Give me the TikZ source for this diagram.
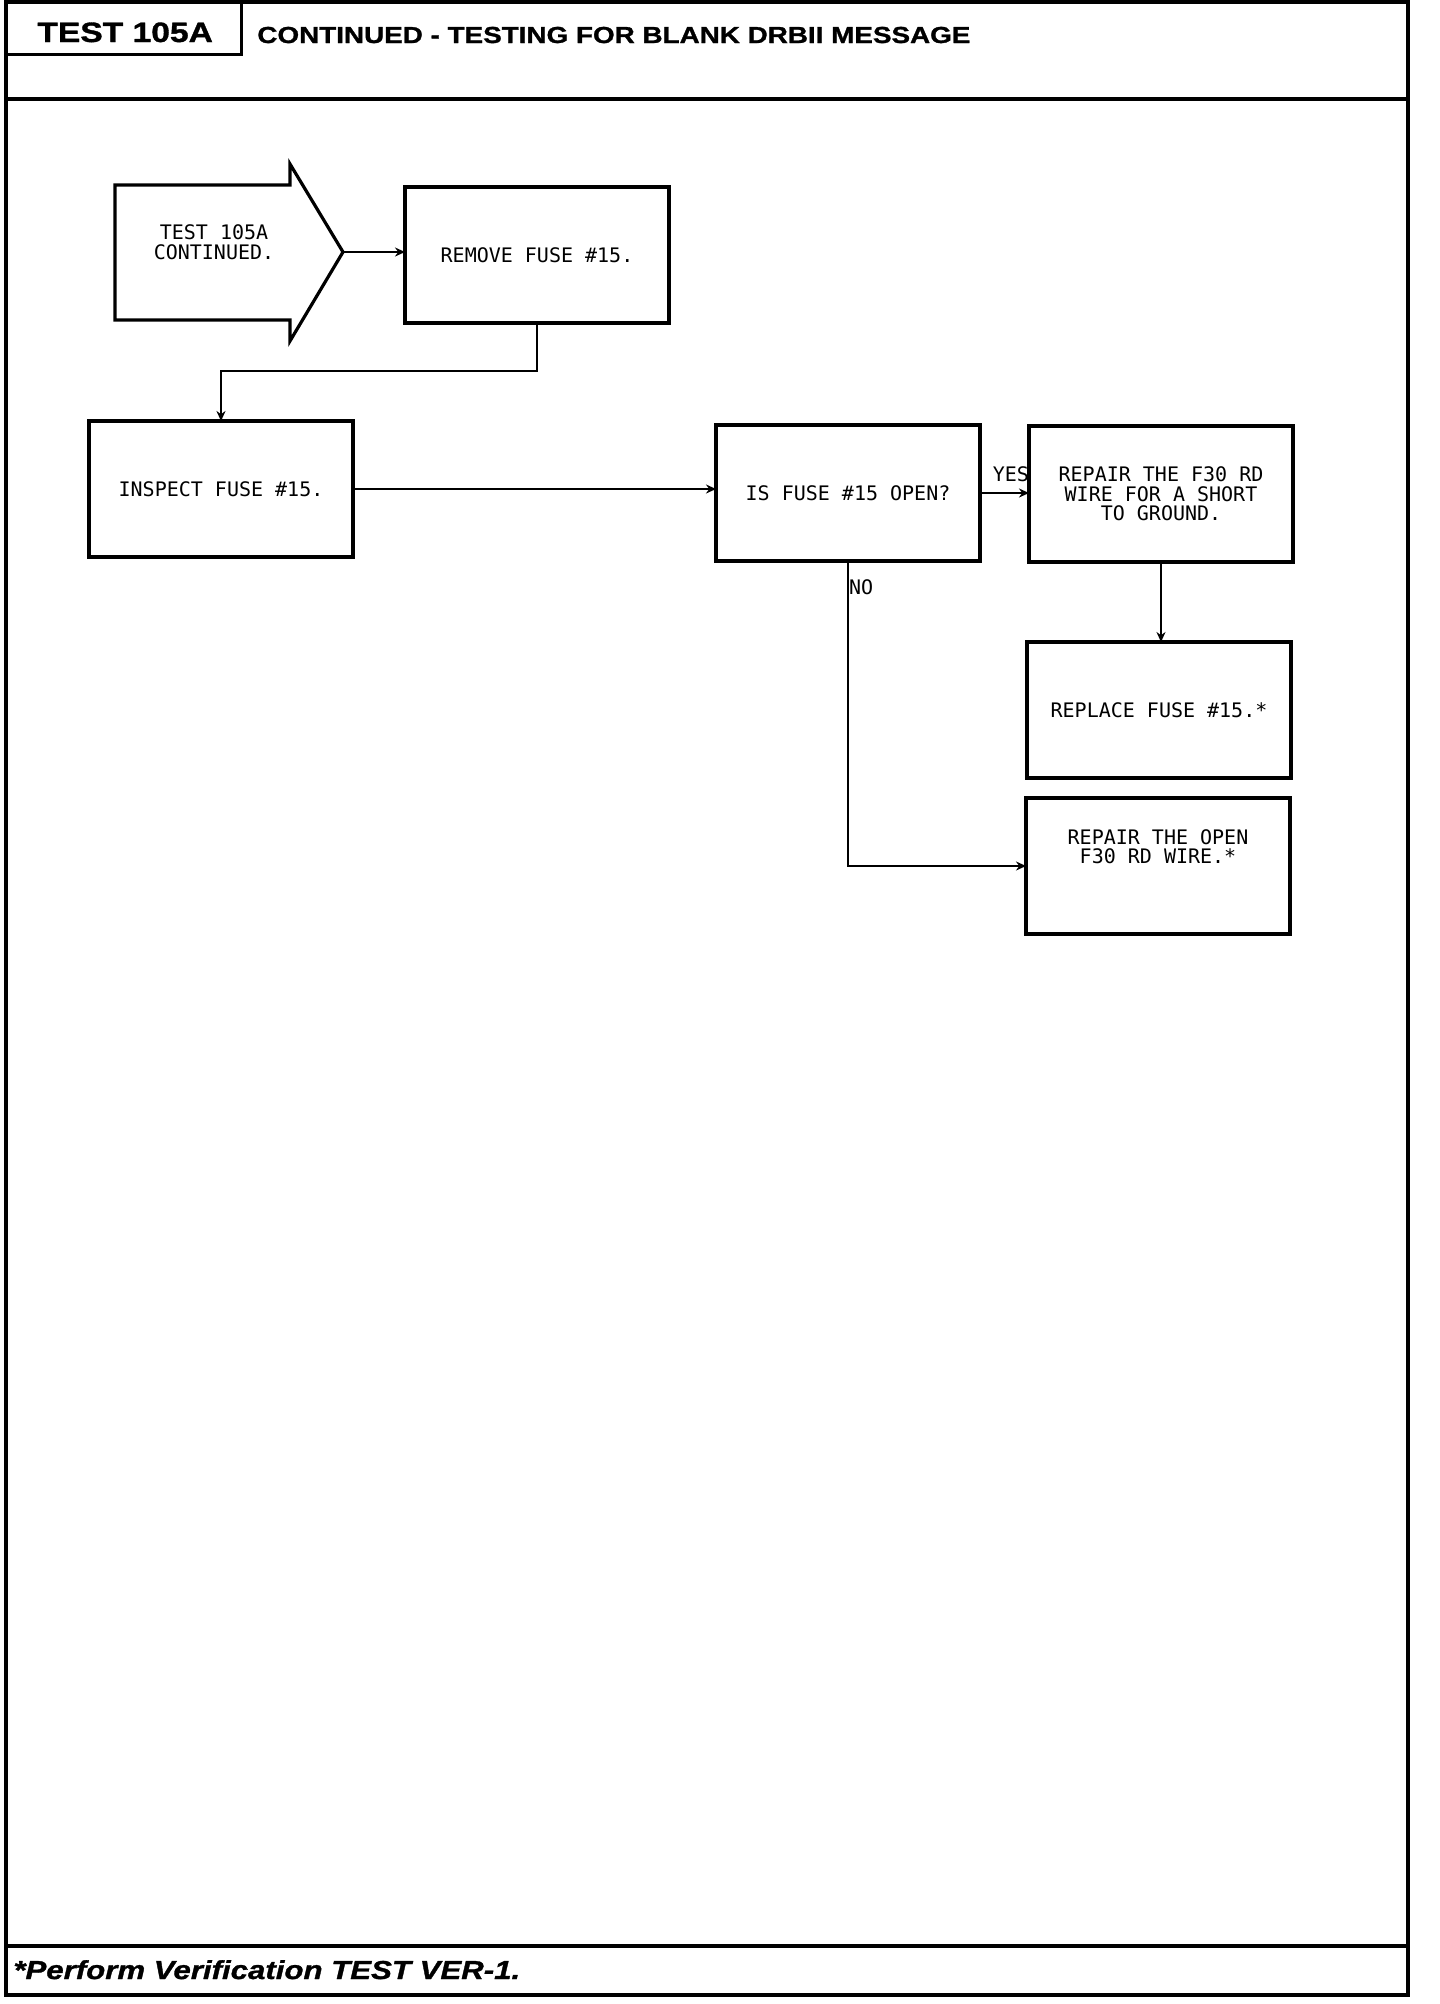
\documentclass[tikz,border=0pt]{standalone}
\usepackage{fontspec}
\setmonofont{DejaVu Sans Mono}
\newfontfamily\headfont[FakeStretch=1.2, BoldFeatures={FakeBold=1.2}, BoldItalicFeatures={FakeBold=1.2}]{Liberation Sans}
\usetikzlibrary{arrows.meta}
\begin{document}
\begin{tikzpicture}[x=0.5pt,y=-0.5pt,
  box/.style={draw, line width=1.6pt, minimum width=132pt, minimum height=68pt,
    inner sep=0pt, outer sep=0pt, align=center,
    font={\ttfamily\fontsize{10pt}{9.75pt}\selectfont}},
  plain/.style={inner sep=0pt, outer sep=0pt, align=center,
    font={\ttfamily\fontsize{10pt}{9.75pt}\selectfont}},
  conn/.style={line width=1.4pt, -{Stealth[length=5pt,width=4.5pt]}},
  frame/.style={line width=2pt},
  head/.style={inner sep=0pt, anchor=base west}]
\useasboundingbox (0,0) rectangle (1440,2004);
% outer frame and separators
\draw[frame] (6,2) rectangle (1408,1995);
\draw[frame] (6,99) -- (1408,99);
\draw[frame] (6,1946) -- (1408,1946);
\draw[line width=1.5pt] (6,54) -- (241,54) -- (241,2);
% header texts
\node[head, font={\headfont\bfseries\fontsize{14pt}{16pt}\selectfont}] (ttl) at (37,42) {TEST 105A};
\node[head, font={\headfont\bfseries\fontsize{11.6pt}{14pt}\selectfont}] (hdg) at (257,43) {CONTINUED - TESTING FOR BLANK DRBII MESSAGE};
\node[head, font={\headfont\bfseries\itshape\fontsize{13pt}{15pt}\selectfont}] (foot) at (13,1979) {*Perform Verification TEST VER-1.};
% start arrow
\draw[line width=1.6pt, line join=miter] (115,185) -- (290,185) -- (290,164) -- (343,252) -- (290,341) -- (290,320) -- (115,320) -- cycle;
\coordinate (tip) at (343,252);
\node[plain] (start) at (214,242) {TEST 105A\\CONTINUED.};
% boxes
\node[box] (remove) at (537,255) {REMOVE FUSE \#15.};
\node[box] (inspect) at (221,489) {INSPECT FUSE \#15.};
\node[box] (isopen) at (848,493) {IS FUSE \#15 OPEN?};
\node[box] (rshort) at (1161,494) {REPAIR THE F30 RD\\WIRE FOR A SHORT\\TO GROUND.};
\node[box] (replace) at (1159,710) {REPLACE FUSE \#15.*};
\node[box] (ropen) at (1158,866) {REPAIR THE OPEN\\F30 RD WIRE.*\\[9.75pt]};
% connectors
\draw[conn] (tip) -- (tip -| remove.west);
\draw[conn] (remove.south) -- ++(0,48) -| (inspect.north);
\draw[conn] (inspect.east) -- (inspect.east -| isopen.west);
\draw[conn] (isopen.east) -- (isopen.east -| rshort.west);
\draw[conn] (rshort.south) -- (rshort.south |- replace.north);
\draw[conn] (isopen.south) |- (ropen.west);
% labels
\node[plain, anchor=base east] (yes) at (1029,481) {YES};
\node[plain, anchor=base west] (no) at (849,594) {NO};
\end{tikzpicture}
\end{document}
